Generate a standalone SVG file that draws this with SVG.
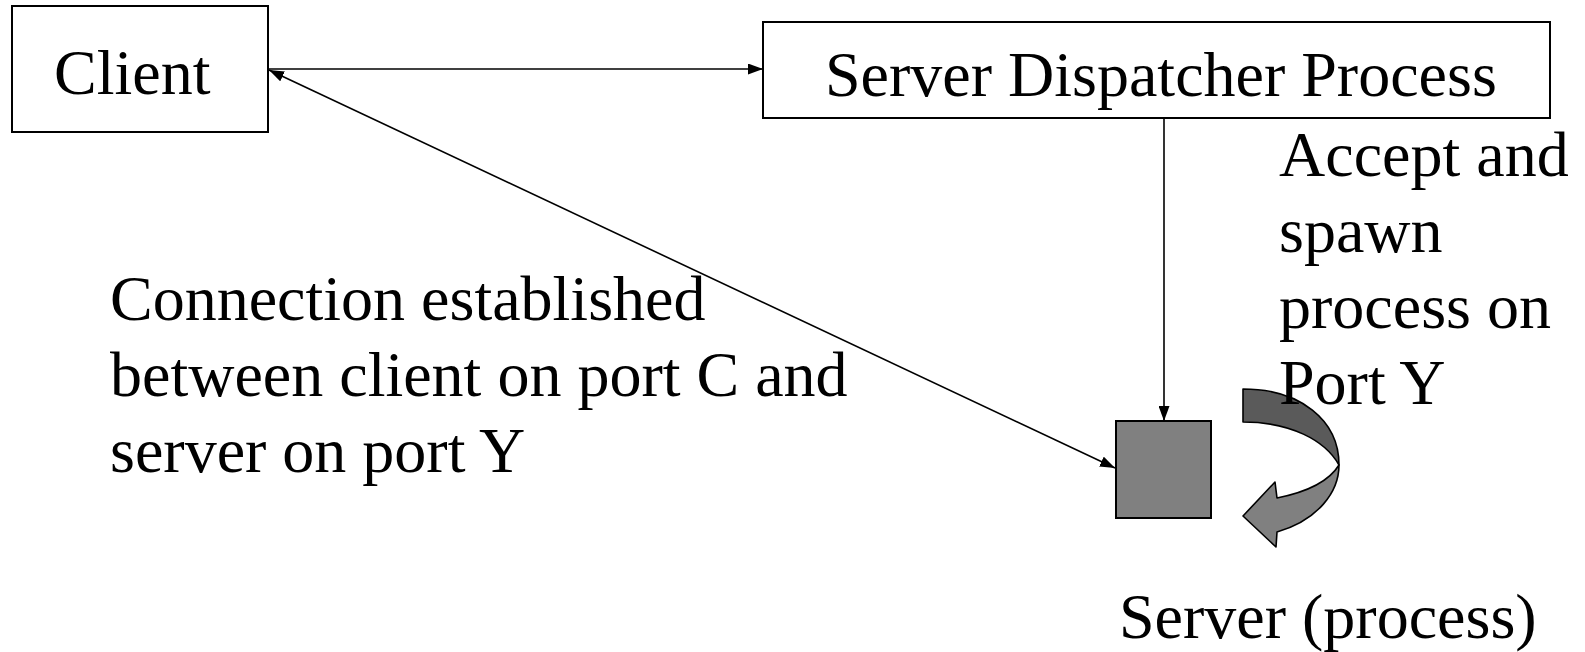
<svg xmlns="http://www.w3.org/2000/svg" width="1585" height="652" viewBox="0 0 1585 652">
  <style>
    .box { fill: #ffffff; stroke: #000000; stroke-width: 2; }
    .proc { fill: #808080; stroke: #000000; stroke-width: 2; }
    .lbl { font-size: 64px; fill: #000000; }
    .link { fill: none; stroke: #000000; stroke-width: 1.6; }
    .turn-back { fill: #5a5a5a; stroke: #000000; stroke-width: 1.6; stroke-linejoin: round; }
    .turn-front { fill: #808080; stroke: #000000; stroke-width: 1.6; stroke-linejoin: round; }
  </style>
  <defs>
    <marker id="head" viewBox="0 0 15 11" refX="15" refY="5.5" markerWidth="15" markerHeight="11" markerUnits="userSpaceOnUse" orient="auto-start-reverse">
      <path d="M0,0 L15,5.5 L0,11 Z" fill="#000000"/>
    </marker>
  </defs>
  <rect width="1585" height="652" fill="#ffffff"/>

  <!-- connectors -->
  <g id="connectors">
    <line class="link" x1="268" y1="69" x2="763" y2="69" marker-end="url(#head)"/>
    <line class="link" x1="269" y1="70" x2="1115" y2="468" marker-start="url(#head)" marker-end="url(#head)"/>
    <line class="link" x1="1164" y1="118" x2="1164" y2="421" marker-end="url(#head)"/>
  </g>

  <g font-family="'Times New Roman', 'Liberation Serif', Times, serif">
    <!-- client node -->
    <g id="client">
      <rect class="box" x="12" y="6" width="256" height="126"/>
      <text class="lbl" x="54" y="94">Client</text>
    </g>

    <!-- dispatcher node -->
    <g id="dispatcher">
      <rect class="box" x="763" y="22" width="787" height="96"/>
      <text class="lbl" x="825" y="96">Server Dispatcher Process</text>
    </g>

    <!-- spawned server process -->
    <g id="server-process">
      <rect class="proc" x="1116" y="421" width="95" height="97"/>
    </g>

    <!-- curved spawn arrow -->
    <g id="spawn-arrow">
      <path class="turn-back" d="M1243,389 C1300,389 1339,420 1339,465 C1325,440 1290,422 1243,422 Z"/>
      <path class="turn-front" d="M1339,465 C1339,492 1318,520 1277,532 L1276,547 L1243,516 L1275,482 L1277,498 C1302,493 1328,483 1339,465 Z"/>
    </g>

    <!-- labels -->
    <g id="spawn-label">
      <text class="lbl" x="1279" y="176">Accept and</text>
      <text class="lbl" x="1279" y="252">spawn</text>
      <text class="lbl" x="1279" y="328">process on</text>
      <text class="lbl" x="1279" y="404">Port Y</text>
    </g>
    <g id="connection-label">
      <text class="lbl" x="110" y="320">Connection established</text>
      <text class="lbl" x="110" y="396">between client on port C and</text>
      <text class="lbl" x="110" y="472">server on port Y</text>
    </g>
    <g id="server-label">
      <text class="lbl" x="1119" y="638">Server (process)</text>
    </g>
  </g>
</svg>
